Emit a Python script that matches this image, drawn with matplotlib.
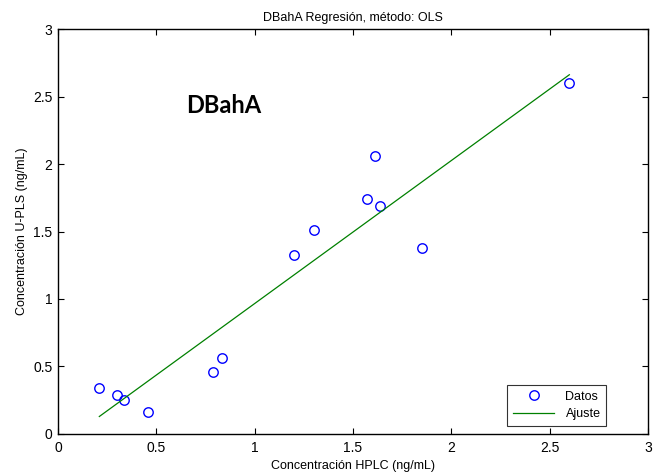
import matplotlib

matplotlib.use("Agg")

import matplotlib.pyplot as plt
import numpy as np

# HPLC reference vs U-PLS predicted concentrations (ng/mL)
hplc = [0.210, 0.299, 0.333, 0.458, 0.790, 0.832, 1.201, 1.301,
        1.572, 1.611, 1.639, 1.851, 2.600]
upls = [0.339, 0.287, 0.250, 0.161, 0.459, 0.563, 1.328, 1.511,
        1.741, 2.057, 1.687, 1.376, 2.602]
ticks = [0, 0.5, 1, 1.5, 2, 2.5, 3]
tick_labels = ["0", "0.5", "1", "1.5", "2", "2.5", "3"]

plt.rcParams["font.family"] = ["Liberation Sans", "DejaVu Sans"]

fig = plt.figure(figsize=(6.67, 4.74), dpi=100)
ax = fig.add_axes([0.087, 0.0844, 0.8845, 0.8544])

x = np.array(hplc)
y = np.array(upls)
slope, intercept = np.polyfit(x, y, 1)
xfit = np.array([x.min(), x.max()])

ax.plot(x, y, "o", markersize=6.8, markerfacecolor="none",
        markeredgecolor="blue", markeredgewidth=1.0, label="Datos")
ax.plot(xfit, slope * xfit + intercept, "-", color="green",
        linewidth=0.9, label="Ajuste")

ax.set_xlim(0, 3)
ax.set_ylim(0, 3)
ax.set_xticks(ticks)
ax.set_xticklabels(tick_labels)
ax.set_yticks(ticks)
ax.set_yticklabels(tick_labels)
ax.tick_params(direction="in", top=True, right=True, length=4,
               width=0.8, labelsize=10)
ax.tick_params(axis="x", pad=5)
ax.tick_params(axis="y", pad=4)
for spine in ax.spines.values():
    spine.set_linewidth(1.0)

ax.set_xlabel("Concentración HPLC (ng/mL)", fontsize=9, labelpad=4)
ax.set_ylabel("Concentración U-PLS (ng/mL)", fontsize=9, labelpad=4)
ax.set_title("DBahA Regresión, método: OLS", fontsize=9, pad=6)

ax.text(0.65, 2.43, "DBahA", fontsize=17, fontweight="bold",
        family=["Lato", "DejaVu Sans"], ha="left", va="center")

leg = ax.legend(loc="lower right", bbox_to_anchor=(0.929, 0.02),
                borderaxespad=0, fontsize=9, frameon=True, fancybox=False,
                edgecolor="black", handlelength=3.3, handletextpad=0.9,
                borderpad=0.45, labelspacing=0.45)
leg.get_frame().set_linewidth(0.8)

fig.savefig("out.png", dpi=100)
